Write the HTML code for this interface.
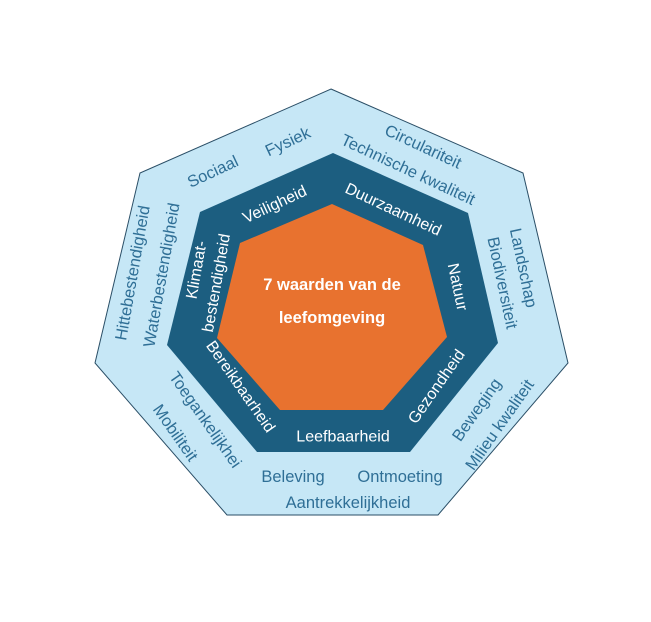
<!DOCTYPE html>
<html><head><style>
html,body{margin:0;padding:0;background:#fff;}
svg{display:block}
.o{font-family:"Liberation Sans",sans-serif;font-size:16.5px;fill:#2f6f96;}
.w{font-family:"Liberation Sans",sans-serif;font-size:16px;fill:#fff;}
.c{font-family:"Liberation Sans",sans-serif;font-size:16.5px;font-weight:bold;fill:#fff;}
</style></head><body>
<svg width="651" height="622" viewBox="0 0 651 622">
<polygon points="331,89 523,173 568,363 438,515 227,515 95,363 140,173" fill="#c6e7f6" stroke="#2a4e66" stroke-width="1"/>
<polygon points="333,153 468,213 498,343 410,452 257,452 167,345 200,212" fill="#1c5e80"/>
<polygon points="332,204 423,245 447,337 383,410 280,410 217,338 240,243" fill="#e8722f"/>
<g text-anchor="middle" dominant-baseline="central">
<text class="o" transform="translate(213,172) rotate(-25)">Sociaal</text>
<text class="o" transform="translate(288,142) rotate(-25)">Fysiek</text>
<text class="o" transform="translate(423,147) rotate(25)">Circulariteit</text>
<text class="o" transform="translate(408,170) rotate(25)">Technische kwaliteit</text>
<text class="o" transform="translate(523,268) rotate(78)">Landschap</text>
<text class="o" transform="translate(502,283) rotate(78)">Biodiversiteit</text>
<text class="o" transform="translate(500,425) rotate(-55)">Milieu kwaliteit</text>
<text class="o" transform="translate(477,410) rotate(-55)">Beweging</text>
<text class="o" transform="translate(400,477)">Ontmoeting</text>
<text class="o" transform="translate(293,477)">Beleving</text>
<text class="o" transform="translate(348,503)">Aantrekkelijkheid</text>
<text class="o" transform="translate(175,433) rotate(55)">Mobiliteit</text>
<text class="o" transform="translate(205,420) rotate(55)">Toegankelijkhei</text>
<text class="o" transform="translate(133,273) rotate(-80)">Hittebestendigheid</text>
<text class="o" transform="translate(162,275) rotate(-80)">Waterbestendigheid</text>
<text class="w" transform="translate(275,205) rotate(-25)">Veiligheid</text>
<text class="w" transform="translate(393,210) rotate(25)">Duurzaamheid</text>
<text class="w" transform="translate(457,287) rotate(78)">Natuur</text>
<text class="w" transform="translate(437,387) rotate(-55)">Gezondheid</text>
<text class="w" transform="translate(343,437)">Leefbaarheid</text>
<text class="w" transform="translate(240,387) rotate(55)">Bereikbaarheid</text>
<text class="w" transform="translate(197,270) rotate(-80)">Klimaat-</text>
<text class="w" transform="translate(217,283) rotate(-80)">bestendigheid</text>
<text class="c" x="332" y="285">7 waarden van de</text>
<text class="c" x="332" y="318">leefomgeving</text>
</g>
</svg>
</body></html>
